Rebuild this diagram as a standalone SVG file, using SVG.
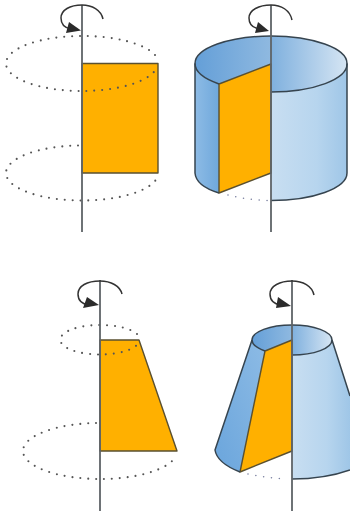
<svg xmlns="http://www.w3.org/2000/svg" width="350" height="515" viewBox="0 0 350 515">
<style>
.axis{stroke:#5f6468;stroke-width:1.8;fill:none}
.dots{fill:none;stroke:#555;stroke-width:2.1;stroke-linecap:round;stroke-dasharray:0 7.9}
.dotsb{fill:none;stroke:#7a80a0;stroke-width:1.6;stroke-linecap:round;stroke-dasharray:0 7.9}
.face{fill:#ffb000;stroke:#5a5030;stroke-width:1.4;stroke-linejoin:round}
.edge{stroke:#36444f;stroke-width:1.5;stroke-linejoin:round}
.turn{fill:none;stroke:#333;stroke-width:1.5}
.head{fill:#2b2b2b}
</style>
<defs>
<linearGradient id="outer" x1="0" x2="1" y1="0" y2="0"><stop offset="0" stop-color="#c8def1"/><stop offset=".6" stop-color="#b7d5ee"/><stop offset="1" stop-color="#9fc6e7"/></linearGradient>
<linearGradient id="wall" x1="0" x2="1" y1="0" y2="0"><stop offset="0" stop-color="#8dbbe5"/><stop offset="1" stop-color="#6fa8dc"/></linearGradient>
<linearGradient id="wall2" x1="0" x2="1" y1="1" y2="0"><stop offset="0" stop-color="#6aa5dc"/><stop offset="1" stop-color="#8dbbe5"/></linearGradient>
<linearGradient id="inL" x1="0" x2="1" y1="0" y2="0"><stop offset="0" stop-color="#649fd8"/><stop offset="1" stop-color="#8fb9e0"/></linearGradient>
<linearGradient id="inR" x1="0" x2="1" y1="0" y2="0"><stop offset="0" stop-color="#7fb0de"/><stop offset="1" stop-color="#d5e5f3"/></linearGradient>
</defs>

<g id="node-rectangle">
<rect class="face" x="82" y="63.5" width="76" height="109.5"/>
</g>
<g id="node-cylinder">
<path fill="url(#outer)" d="M271 92A76 28 0 0 0 347 63.5V173A76 27.500 0 0 1 271 200.500Z"/>
<path fill="url(#wall)" d="M195 63.500V173Q196 186 219 193V84A76 28 0 0 1 195 63.500Z"/>
<path fill="url(#inL)" d="M195 63.500A76 28 0 0 1 271 36V64L219 84A76 28 0 0 1 195 63.500Z"/>
<path fill="url(#inR)" d="M271 36A76 28 0 0 1 347 63.500A76 28 0 0 1 271 92V64Z"/>
<path class="face" d="M219 84L271 64V173L219 193Z"/>
<path class="edge" fill="none" d="M271 92A76 28 0 0 0 347 63.500A76 27.500 0 0 0 271 36A76 27.500 0 0 0 195 63.500A76 28 0 0 0 219 84"/>
<path class="edge" fill="none" d="M195 63.500V173Q196 186 219 193"/>
<path class="edge" fill="none" d="M347 63.500V173A76 27.500 0 0 1 271 200.500"/>
</g>
<g id="node-trapezoid">
<path class="face" d="M100 340H139L177 451H100Z"/>
</g>
<g id="node-frustum">
<path fill="url(#outer)" d="M292 355A40 15 0 0 0 332 340L350 396V470Q325 479 292 479Z"/>
<path fill="url(#wall2)" d="M252 340L215 450Q217 463 240 472L265 351A40 15 0 0 1 252 340Z"/>
<path fill="url(#inL)" d="M252 340A40 15 0 0 1 292 325V340L265 351A40 15 0 0 1 252 340Z"/>
<path fill="url(#inR)" d="M292 325A40 15 0 0 1 332 340A40 15 0 0 1 292 355V340Z"/>
<path class="face" d="M265 351L292 340V451L240 472Z"/>
<path class="edge" fill="none" d="M292 355A40 15 0 0 0 332 340A40 15 0 0 0 292 325A40 15 0 0 0 252 340A40 15 0 0 0 265 351"/>
<path class="edge" fill="none" d="M252 340L215 450Q217 463 240 472"/>
<path class="edge" fill="none" d="M332 340L350 396M350 470Q325 479 292 479"/>
</g>

<g id="connectors">
<path class="dots" d="M155 55A76 27.500 0 0 0 82 36A76 27.500 0 0 0 6 63.500A76 27.500 0 0 0 82 91A76 27.500 0 0 0 157 67"/>
<path class="dots" d="M78 145.500A76 27.500 0 0 0 6 173A76 27.500 0 0 0 82 200.500A76 27.500 0 0 0 157 178"/>
<path class="dotsb" d="M228 195Q248 200 268 200.500"/>
<path class="dots" d="M137 334A39.500 14.500 0 0 0 100 325A39.500 14.500 0 0 0 60.500 340A39.500 14.500 0 0 0 100 354.500A39.500 14.500 0 0 0 139 342"/>
<path class="dots" d="M96 423A77 28 0 0 0 23 451A77 28 0 0 0 100 479A77 28 0 0 0 176 456"/>
<path class="dotsb" d="M248 474Q268 478 287 479"/>
<path class="axis" d="M82 5V232M271 5V232M100 280V511M292 280V511"/>
<path class="turn" d="M103 19C101 10 92 5 82 5C70 5 61 10 61 18C61 24 65 28 71 29"/>
<path class="head" d="M81 30.500L66 33L69 22Z"/>
<path class="turn" d="M292 20C290 10 281 5 271 5C259 5 249 10 249 18C249 24 253 28 260 29"/>
<path class="head" d="M269 31L255 33L258 22Z"/>
<path class="turn" d="M122 294C120 286 111 281 100 281C87 281 78 286 78 294C78 300 82 304 89 305"/>
<path class="head" d="M99 305L83 308L87 297Z"/>
<path class="turn" d="M314 295C312 286 303 281 292 281C280 281 270 286 270 294C270 300 274 304 281 305"/>
<path class="head" d="M291 306L276 308L278 297Z"/>
</g>
</svg>
